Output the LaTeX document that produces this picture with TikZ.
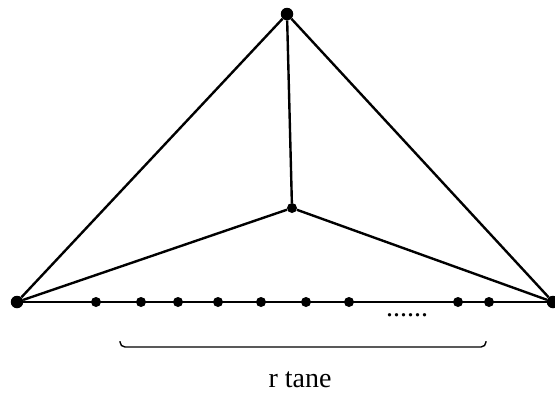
\documentclass[tikz,border=0pt]{standalone}
\usepackage{fontspec}
\setmainfont{Liberation Serif}
\usetikzlibrary{calc}
\tikzset{
    bigvertex/.style={circle, fill, inner sep=0pt, minimum size=12.5pt},
    vertex/.style={circle, fill, inner sep=0pt, minimum size=10pt},
    edge/.style={-, line width=2.4pt},
    baseedge/.style={-, line width=2.8pt},
    bracket/.style={-, line width=1.4pt, rounded corners=5pt},
    label/.style={font=\fontsize{28}{30}\selectfont, inner sep=0pt},
}

\begin{document}
\begin{tikzpicture}[x=1pt, y=-1pt]
    \useasboundingbox (0,0) rectangle (555,392);
    % outer triangle and centre
    \node[bigvertex] (top)   at (287,14)  {};
    \node[bigvertex] (left)  at (17,302)  {};
    \node[bigvertex] (right) at (553,302) {};
    \node[vertex]    (mid)   at (292,208) {};
    \draw[edge] (top) -- (left);
    \draw[edge] (top) -- (right);
    \draw[edge] (top) -- (mid);
    \draw[edge] (mid) -- (left);
    \draw[edge] (mid) -- (right);
    \draw[baseedge] (left) -- (right);
    % points on the base
    \foreach \x [count=\i] in {96,141,178,218,261,306,349,458,489}
        \node[vertex] (p\i) at (\x,302) {};
    \node[label, anchor=base] (gap) at (407,316) {......};
    % bracket and its label
    \coordinate (bl) at (120,341);
    \coordinate (br) at (486,341);
    \draw[bracket] (bl) |- ($(bl)!0.5!(br)+(0,6)$) -| (br);
    \node[label, anchor=base] (count) at (300,387) {r tane};
\end{tikzpicture}
\end{document}
